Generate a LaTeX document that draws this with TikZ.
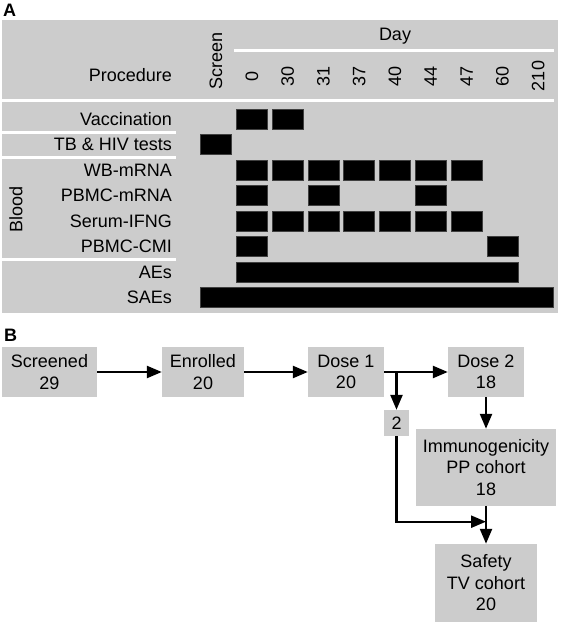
\documentclass[tikz,border=0pt]{standalone}
\usepackage{fontspec}
\setmainfont{Liberation Sans}
\usetikzlibrary{arrows.meta}
\definecolor{panelgray}{RGB}{204,204,204}
\newcommand\schedbar[3]{\filldraw[fill=black, draw=black!75, line width=0.6pt] (216+35.8*#2-15.5, 119+25.5*#1-10) rectangle (216+35.8*#3+15.5, 119+25.5*#1+10);}
\begin{document}
\begin{tikzpicture}[x=1pt,y=-1pt,
  every node/.style={font=\fontsize{18}{21.5}\selectfont, inner sep=0pt},
  rowlabel/.style={anchor=base east},
  daylabel/.style={rotate=90, anchor=center},
  sepline/.style={draw=white, line width=3pt},
  fbox/.style={fill=panelgray, align=center, inner sep=0pt},
  flow/.style={line width=2.4pt, -{Triangle[length=15pt,width=12pt]}},
  panellabel/.style={font=\fontsize{18}{21.5}\selectfont\bfseries, anchor=base west}
]
\useasboundingbox (0,0) rectangle (561,623);
% ---------- Panel A ----------
\node[panellabel] (labA) at (3,17) {A};
\fill[panelgray] (2,20) rectangle (558,313);
\node[anchor=base] (day) at (395,41) {Day};
\draw[sepline] (234,51) -- (554,51);
\draw[sepline] (2,101) -- (554,101);
\draw[sepline] (2,132) -- (176,132);
\draw[sepline] (2,157) -- (176,157);
\draw[sepline] (2,259) -- (176,259);
\node[rowlabel] (proc) at (172,82) {Procedure};
\node[daylabel] (screen) at (216,61) {Screen};
\foreach \d [count=\i] in {0,30,31,37,40,44,47,60,210}
  \node[daylabel] (day\i) at (216+35.8*\i,76) {\d};
\node[rowlabel] (lvacc) at (172,125.3) {Vaccination};
\node[rowlabel] (ltb) at (172,150.8) {TB \& HIV tests};
\node[rowlabel] (lwb) at (172,176.3) {WB-mRNA};
\node[rowlabel] (lpm) at (172,201.8) {PBMC-mRNA};
\node[rowlabel] (lsi) at (172,227.3) {Serum-IFNG};
\node[rowlabel] (lcmi) at (172,252.8) {PBMC-CMI};
\node[rowlabel] (lae) at (172,278.3) {AEs};
\node[rowlabel] (lsae) at (172,303.8) {SAEs};
\node[rotate=90] (blood) at (16,209) {Blood};
% bars
\schedbar{0}{1}{1}\schedbar{0}{2}{2}
\schedbar{1}{0}{0}
\foreach \c in {1,...,7} {\schedbar{2}{\c}{\c}\schedbar{4}{\c}{\c}}
\schedbar{3}{1}{1}\schedbar{3}{3}{3}\schedbar{3}{6}{6}
\schedbar{5}{1}{1}\schedbar{5}{8}{8}
\schedbar{6}{1}{8}
\schedbar{7}{0}{9}
% ---------- Panel B ----------
\node[panellabel] (labB) at (4,341) {B};
\node[fbox, minimum width=95pt, minimum height=50pt] (scr) at (49.5,372) {Screened\\29};
\node[fbox, minimum width=82pt, minimum height=50pt] (enr) at (203,372) {Enrolled\\20};
\node[fbox, minimum width=76pt, minimum height=50pt] (d1) at (346,372) {Dose 1\\20};
\node[fbox, minimum width=76pt, minimum height=50pt] (d2) at (486,372) {Dose 2\\18};
\node[fbox, minimum width=25pt, minimum height=26pt] (two) at (396.5,423) {2};
\node[fbox, minimum width=140pt, minimum height=76.7pt] (imm) at (486,467.3) {Immunogenicity\\PP cohort\\18};
\node[fbox, minimum width=101.6pt, minimum height=77.7pt] (saf) at (486,582.8) {Safety\\TV cohort\\20};
\coordinate (join) at (486,521.7);
\draw[flow] (scr.east) -- (enr.west);
\draw[flow] (enr.east) -- (d1.west);
\draw[flow] (d1.east) -- (d2.west);
\draw[flow] (two.north |- d1.east) -- (two.north);
\draw[flow] (two.south) |- (join);
\draw[flow] (d2.south) -- (imm.north);
\draw[flow] (imm.south) -- (saf.north);
\end{tikzpicture}
\end{document}
